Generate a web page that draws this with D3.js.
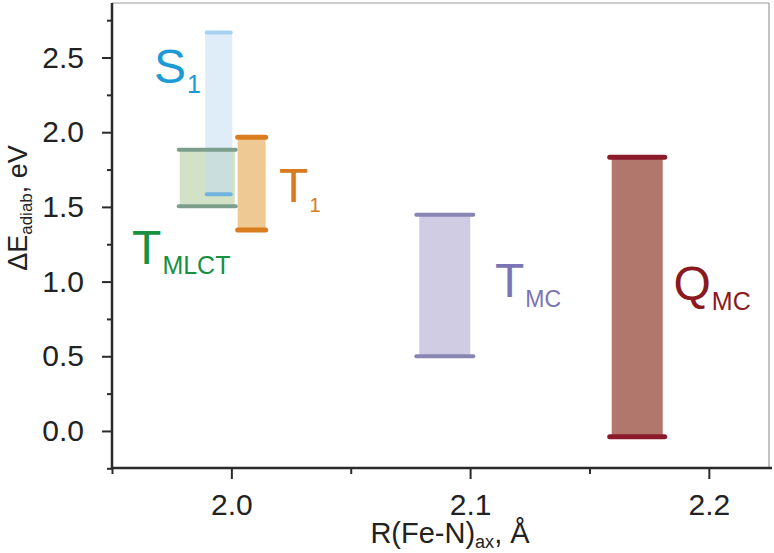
<!DOCTYPE html>
<html>
<head>
<meta charset="utf-8">
<style>
  body { margin: 0; background: #fff; }
  svg { display: block; font-family: "Liberation Sans", Arial, sans-serif; }
</style>
</head>
<body>
<div id="chart"></div>
<script src="https://d3js.org/d3.v7.min.js"></script>
<script>
// states and their adiabatic energy ranges at the given R(Fe-N)ax
const states = ["S1", "TMLCT", "T1", "TMC", "QMC"];
const rFeN = [1.9947, 1.9899, 2.0085, 2.0894, 2.1700];
const eMin = [1.584, 1.504, 1.345, 0.500, -0.038];
const eMax = [2.668, 1.883, 1.966, 1.448, 1.832];

// label text (main letter + subscript) and where it sits, in data units
const labelMain = ["S", "T", "T", "T", "Q"];
const labelSub = ["1", "MLCT", "1", "MC", "MC"];
const labelR = [1.9676, 1.9584, 2.0200, 2.1104, 2.1852];
const labelE = [2.329, 1.118, 1.535, 0.899, 0.877];

const xMajor = [2.0, 2.1, 2.2];
const xMinor = [1.95, 2.05, 2.15];
const yMajor = [0.0, 0.5, 1.0, 1.5, 2.0, 2.5];
const yMinor = [-0.25, 0.25, 0.75, 1.25, 1.75, 2.25, 2.75];

// styles, one per state
const fillCol = ["#bfdbf3", "#d3e2c6", "#eec993", "#cfcce3", "#b1766c"];
const fillOp = [0.5, 1, 1, 1, 1];
const capTop = ["#a7d1f0", "#7c9e8c", "#d97d1f", "#8985b3", "#8b1b2b"];
const capBot = ["#70b4df", "#7c9e8c", "#d97d1f", "#8985b3", "#8b1b2b"];
const textCol = ["#1b9ad6", "#17903f", "#d87a1e", "#7b75b5", "#8a1a20"];
const fillW = [27, 55, 28, 51, 51];
const capW = [28, 61, 33, 61, 60];
const capH = [4, 4, 5, 4, 5];
const subSize = [25, 25, 20, 23, 25];
const subShift = [10, 10, 10, 10, 10];

const W = 774, H = 553;
const mLeft = 112, mRight = 769, mTop = 3, mBottom = 468;

const x = d3.scaleLinear().domain([1.95, 2.2252]).range([mLeft, mRight]);
const y = d3.scaleLinear().domain([-0.248, 2.865]).range([mBottom, mTop]);

const svg = d3.select("#chart").append("svg")
  .attr("width", W).attr("height", H);

// top / right frame
svg.append("line").attr("x1", mLeft).attr("x2", mRight).attr("y1", mTop).attr("y2", mTop)
  .attr("stroke", "#9a9a9a").attr("stroke-width", 1.2);
svg.append("line").attr("x1", mRight).attr("x2", mRight).attr("y1", mTop).attr("y2", mBottom)
  .attr("stroke", "#9a9a9a").attr("stroke-width", 1.2);

// axes
const ax = "#2a2a2a";
const gx = svg.append("g").attr("transform", `translate(0,${mBottom})`);
gx.call(d3.axisBottom(x).tickValues(xMajor).tickSize(11).tickPadding(15).tickFormat(d3.format(".1f")));
gx.append("g").call(d3.axisBottom(x).tickValues(xMinor).tickSize(6).tickFormat(""));
gx.selectAll(".domain").remove();
gx.append("line").attr("x1", mLeft - 1).attr("x2", mRight + 3).attr("stroke", ax).attr("stroke-width", 2.5);

const gy = svg.append("g").attr("transform", `translate(${mLeft},0)`);
gy.call(d3.axisLeft(y).tickValues(yMajor).tickSize(10).tickPadding(18).tickFormat(d3.format(".1f")));
gy.append("g").call(d3.axisLeft(y).tickValues(yMinor).tickSize(5).tickFormat(""));
gy.selectAll(".domain").remove();
gy.append("line").attr("y1", mTop).attr("y2", mBottom + 1).attr("stroke", ax).attr("stroke-width", 2.5);

svg.selectAll(".tick line").attr("stroke", ax).attr("stroke-width", 2);
svg.selectAll(".tick text").attr("fill", "#222").attr("font-size", 30)
  .attr("font-family", "Liberation Sans, Arial, sans-serif");

// range bars: fills first, then caps
const idx = d3.range(states.length);
const drawOrder = [1, 0, 2, 3, 4];

svg.append("g").selectAll("rect").data(drawOrder).enter().append("rect")
  .attr("x", i => x(rFeN[i]) - fillW[i] / 2)
  .attr("width", i => fillW[i])
  .attr("y", i => y(eMax[i]))
  .attr("height", i => y(eMin[i]) - y(eMax[i]))
  .attr("fill", i => fillCol[i])
  .attr("fill-opacity", i => fillOp[i]);

const caps = svg.append("g").attr("stroke-linecap", "round");
caps.selectAll("line.top").data(drawOrder).enter().append("line")
  .attr("class", "top")
  .attr("x1", i => x(rFeN[i]) - capW[i] / 2 + capH[i] / 2)
  .attr("x2", i => x(rFeN[i]) + capW[i] / 2 - capH[i] / 2)
  .attr("y1", i => y(eMax[i])).attr("y2", i => y(eMax[i]))
  .attr("stroke", i => capTop[i]).attr("stroke-width", i => capH[i]);
caps.selectAll("line.bot").data(drawOrder).enter().append("line")
  .attr("class", "bot")
  .attr("x1", i => x(rFeN[i]) - capW[i] / 2 + capH[i] / 2)
  .attr("x2", i => x(rFeN[i]) + capW[i] / 2 - capH[i] / 2)
  .attr("y1", i => y(eMin[i])).attr("y2", i => y(eMin[i]))
  .attr("stroke", i => capBot[i]).attr("stroke-width", i => capH[i]);

// state labels
const lab = svg.append("g").selectAll("text").data(idx).enter().append("text")
  .attr("x", i => x(labelR[i]))
  .attr("y", i => y(labelE[i]))
  .attr("fill", i => textCol[i])
  .attr("font-size", 48);
lab.append("tspan").text(i => labelMain[i]);
lab.append("tspan")
  .attr("dx", 1)
  .attr("dy", i => subShift[i])
  .attr("font-size", i => subSize[i])
  .text(i => labelSub[i]);

// axis titles
const xt = svg.append("text").attr("x", 450).attr("y", 543)
  .attr("text-anchor", "middle").attr("font-size", 29).attr("fill", "#222");
xt.append("tspan").text("R(Fe-N)");
xt.append("tspan").attr("font-size", 18).attr("dy", 5).text("ax");
xt.append("tspan").attr("dy", -5).text(", Å");

const yt = svg.append("text")
  .attr("transform", "translate(27,208) rotate(-90)")
  .attr("text-anchor", "middle").attr("font-size", 27).attr("fill", "#222");
yt.append("tspan").text("ΔE");
yt.append("tspan").attr("font-size", 17).attr("dy", 5).text("adiab");
yt.append("tspan").attr("dy", -5).text(", eV");
</script>
</body>
</html>
